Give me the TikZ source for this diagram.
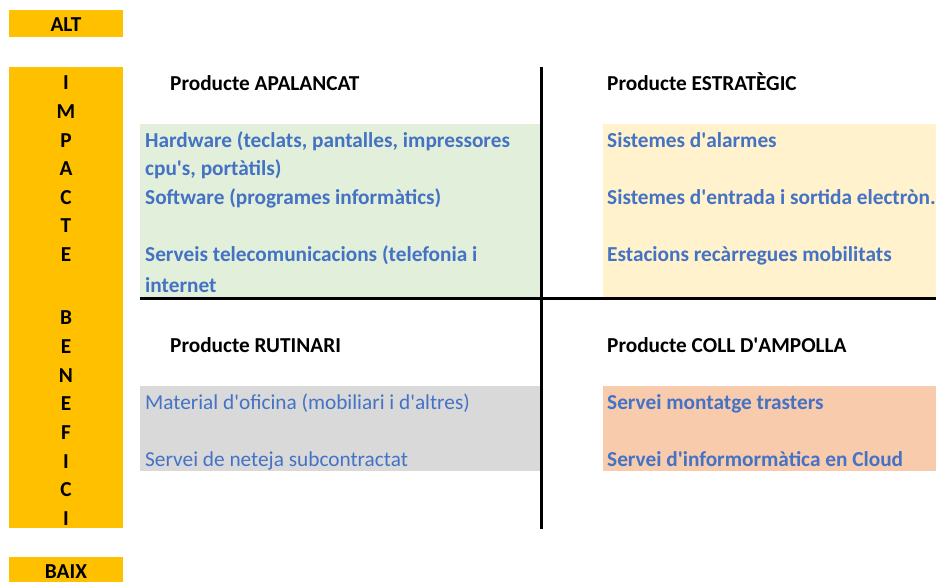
\documentclass[tikz,border=0pt]{standalone}
\usepackage{fontspec}
\setmainfont{Carlito}
\definecolor{orangebox}{HTML}{FFC000}
\definecolor{greenbox}{HTML}{E2EFDA}
\definecolor{yellowbox}{HTML}{FFF2CC}
\definecolor{graybox}{HTML}{D9D9D9}
\definecolor{salmonbox}{HTML}{F8CBAD}
\definecolor{bluetxt}{HTML}{4472C4}
\newcommand{\apo}{\textquotesingle}
\begin{document}
\begin{tikzpicture}[x=1pt,y=-1pt,
  orangecell/.style={fill=orangebox,draw=none},
  letter/.style={anchor=base,inner sep=0pt,font=\fontsize{21.3}{23}\selectfont\bfseries},
  head/.style={anchor=base west,inner sep=0pt,font=\fontsize{21.3}{23}\selectfont\bfseries},
  item/.style={anchor=base west,inner sep=0pt,text=bluetxt,font=\fontsize{21.3}{23}\selectfont\bfseries},
  itemreg/.style={anchor=base west,inner sep=0pt,text=bluetxt,font=\fontsize{21.3}{23}\selectfont},
  axisline/.style={line width=3pt,black}]
\useasboundingbox (0,0) rectangle (936,582);
\fill[white] (0,0) rectangle (936,582);
% orange boxes
\fill[orangecell] (9,10) rectangle (123,37);
\fill[orangecell] (9,67) rectangle (123,528);
\fill[orangecell] (9,557) rectangle (123,582);
\node[letter] (alt) at (66,31.5) {ALT};
\node[letter] (baix) at (66,578.5) {BAIX};
\foreach \ch/\yy [count=\i] in {I/82,M/111,P/140,A/168,C/197,T/225,E/254,B/317,E/346,N/375,E/403,F/432,I/461,C/489,I/518}
  \node[letter] (l\i) at (66,\yy+7) {\ch};
% coloured cells
\fill[greenbox] (140,124) rectangle (540,297);
\fill[yellowbox] (603,124) rectangle (936,297);
\fill[graybox] (140,386) rectangle (540,471);
\fill[salmonbox] (603,386) rectangle (936,471);
% axes
\coordinate (vtop) at (541,67);
\coordinate (vbot) at (541,529);
\coordinate (hl) at (140,298.5);
\coordinate (hr) at (936,298.5);
\draw[axisline] (vtop) -- (vbot);
\draw[axisline] (hl) -- (hr);
% headers
\node[head] (h1) at (170,90.5) {Producte APALANCAT};
\node[head] (h2) at (607,90.5) {Producte ESTRATÈGIC};
\node[head] (h3) at (170,352.5) {Producte RUTINARI};
\node[head] (h4) at (607,352.5) {Producte COLL D\apo AMPOLLA};
% green
\node[item] (g1) at (145,147.5) {Hardware (teclats, pantalles, impressores};
\node[item] (g2) at (145,175.5) {cpu\apo s, portàtils)};
\node[item] (g3) at (145,204.5) {Software (programes informàtics)};
\node[item] (g4) at (145,261.5) {Serveis telecomunicacions (telefonia i};
\node[item] (g5) at (145,292.5) {internet};
% yellow
\node[item] (y1) at (607,147.5) {Sistemes d\apo alarmes};
\node[item] (y2) at (607,204.5) {Sistemes d\apo entrada i sortida electròn.};
\node[item] (y3) at (607,261.5) {Estacions recàrregues mobilitats};
% gray
\node[itemreg] (r1) at (145,409.5) {Material d\apo oficina (mobiliari i d\apo altres)};
\node[itemreg] (r2) at (145,466.5) {Servei de neteja subcontractat};
% salmon
\node[item] (s1) at (607,409.5) {Servei montatge trasters};
\node[item] (s2) at (607,466.5) {Servei d\apo informormàtica en Cloud};
\end{tikzpicture}
\end{document}
